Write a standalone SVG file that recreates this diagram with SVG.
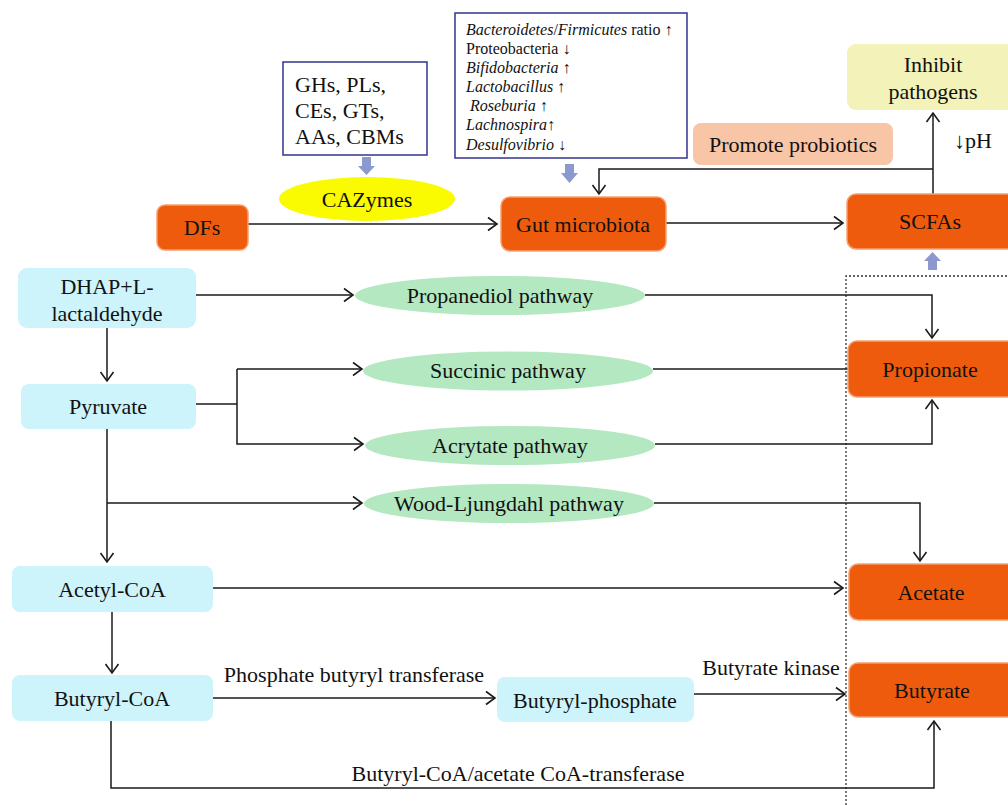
<svg xmlns="http://www.w3.org/2000/svg" width="1008" height="805" viewBox="0 0 1008 805">
<style>
text{font-family:"Liberation Serif","Times New Roman",serif;font-size:22px;fill:#111;text-anchor:middle}
.sm{font-size:16px;text-anchor:start}
.it{font-style:italic}
.or{fill:#ef5b0c;stroke:#f6a070;stroke-width:1.5}
.cy{fill:#cdf3fb}
.gr{fill:#b3e8c1}
.bx{fill:#fff;stroke:#33338f;stroke-width:1.5}
.ln{fill:none;stroke:#1a1a1a;stroke-width:1.5}
.ba{fill:#8c99cf}
</style>
<defs>
<marker id="ah" markerUnits="userSpaceOnUse" markerWidth="20" markerHeight="20" viewBox="-12 -10 14 20" refX="0" refY="0" orient="auto">
<path d="M-9,-6.5 L0,0 L-9,6.5" fill="none" stroke="#1a1a1a" stroke-width="1.6"/>
</marker>
</defs>
<rect width="1008" height="805" fill="#fff"/>

<!-- dotted frame -->
<path d="M846,805 V276 H1008" fill="none" stroke="#333" stroke-width="1.3" stroke-dasharray="2,2"/>

<!-- connectors -->
<g id="connectors">
<path class="ln" d="M248,224 H497" marker-end="url(#ah)"/>
<path class="ln" d="M666,223 H843" marker-end="url(#ah)"/>
<path class="ln" d="M933,194 V113" marker-end="url(#ah)"/>
<path class="ln" d="M933,169 H599 V194" marker-end="url(#ah)"/>
<path class="ln" d="M196,295 H353" marker-end="url(#ah)"/>
<path class="ln" d="M645,295 H932 V338" marker-end="url(#ah)"/>
<path class="ln" d="M107,328 V381" marker-end="url(#ah)"/>
<path class="ln" d="M196,404 H237"/>
<path class="ln" d="M237,369 H362" marker-end="url(#ah)"/>
<path class="ln" d="M237,369 V444 H363" marker-end="url(#ah)"/>
<path class="ln" d="M653,369 H848"/>
<path class="ln" d="M655,444 H932 V400" marker-end="url(#ah)"/>
<path class="ln" d="M107,429 V562" marker-end="url(#ah)"/>
<path class="ln" d="M107,503 H362" marker-end="url(#ah)"/>
<path class="ln" d="M654,503 H920 V561" marker-end="url(#ah)"/>
<path class="ln" d="M213,588 H843" marker-end="url(#ah)"/>
<path class="ln" d="M112,612 V673" marker-end="url(#ah)"/>
<path class="ln" d="M213,698 H495" marker-end="url(#ah)"/>
<path class="ln" d="M694,694 H845" marker-end="url(#ah)"/>
<path class="ln" d="M111,721 V788 H934 V721" marker-end="url(#ah)"/>
<text x="354" y="682">Phosphate butyryl transferase</text>
<text x="771" y="675">Butyrate kinase</text>
<text x="518" y="781">Butyryl-CoA/acetate CoA-transferase</text>
<text x="973" y="148">↓pH</text>
</g>

<!-- block arrows -->
<polygon class="ba" points="362,157 371,157 371,166 375,166 366.5,175 358,166 362,166"/>
<polygon class="ba" points="565,164 574,164 574,173 578,173 569.5,183 561,173 565,173"/>
<polygon class="ba" points="928,270 937,270 937,261 941,261 932.5,252 924,261 928,261"/>

<g id="enzymes">
<rect class="bx" x="283" y="62" width="144" height="93"/>
<text x="295" y="92" style="text-anchor:start">GHs, PLs,</text>
<text x="295" y="118" style="text-anchor:start">CEs, GTs,</text>
<text x="295" y="144" style="text-anchor:start">AAs, CBMs</text>
</g>

<g id="bacteria">
<rect class="bx" x="455" y="13" width="232" height="145"/>
<text class="sm" x="466" y="35"><tspan class="it">Bacteroidetes</tspan>/<tspan class="it">Firmicutes</tspan> ratio ↑</text>
<text class="sm" x="466" y="54">Proteobacteria ↓</text>
<text class="sm" x="466" y="73"><tspan class="it">Bifidobacteria</tspan> ↑</text>
<text class="sm" x="466" y="92"><tspan class="it">Lactobacillus</tspan> ↑</text>
<text class="sm" x="470" y="111"><tspan class="it">Roseburia</tspan> ↑</text>
<text class="sm" x="466" y="130"><tspan class="it">Lachnospira</tspan>↑</text>
<text class="sm" x="466" y="150"><tspan class="it">Desulfovibrio</tspan> ↓</text>
</g>

<g id="cazymes">
<ellipse cx="367" cy="199" rx="88" ry="22" fill="#fafa00"/>
<text x="367" y="207">CAZymes</text>
</g>

<g id="dfs">
<rect class="or" x="157" y="205" width="91" height="45" rx="8"/>
<text x="202" y="235">DFs</text>
</g>

<g id="gut">
<rect class="or" x="501" y="197" width="165" height="54" rx="9"/>
<text x="583" y="232">Gut microbiota</text>
</g>

<g id="scfas">
<rect class="or" x="847" y="194" width="170" height="55" rx="9"/>
<text x="930" y="229">SCFAs</text>
</g>

<g id="inhibit">
<rect x="847" y="44" width="170" height="66" rx="9" fill="#f2f2b9"/>
<text x="933" y="72">Inhibit</text>
<text x="933" y="99">pathogens</text>
</g>

<g id="promote">
<rect x="693" y="123" width="200" height="42" rx="8" fill="#f8c5a6"/>
<text x="793" y="152">Promote probiotics</text>
</g>

<g id="dhap">
<rect class="cy" x="18" y="268" width="178" height="60" rx="9"/>
<text x="107" y="294">DHAP+L-</text>
<text x="107" y="321">lactaldehyde</text>
</g>

<g id="pyruvate">
<rect class="cy" x="21" y="384" width="175" height="45" rx="8"/>
<text x="108" y="414">Pyruvate</text>
</g>

<g id="acetylcoa">
<rect class="cy" x="12" y="566" width="201" height="46" rx="8"/>
<text x="112" y="597">Acetyl-CoA</text>
</g>

<g id="butyrylcoa">
<rect class="cy" x="12" y="675" width="201" height="46" rx="8"/>
<text x="112" y="706">Butyryl-CoA</text>
</g>

<g id="butyrylphosphate">
<rect class="cy" x="497" y="677" width="197" height="45" rx="8"/>
<text x="595" y="708">Butyryl-phosphate</text>
</g>

<g id="propanediol">
<ellipse class="gr" cx="500" cy="295.5" rx="145" ry="19.5"/>
<text x="500" y="303">Propanediol pathway</text>
</g>

<g id="succinic">
<ellipse class="gr" cx="508" cy="371" rx="145" ry="19.5"/>
<text x="508" y="378">Succinic pathway</text>
</g>

<g id="acrytate">
<ellipse class="gr" cx="510" cy="445.5" rx="145" ry="19.5"/>
<text x="510" y="453">Acrytate pathway</text>
</g>

<g id="woodljungdahl">
<ellipse class="gr" cx="509" cy="503.5" rx="145" ry="19.5"/>
<text x="509" y="511">Wood-Ljungdahl pathway</text>
</g>

<g id="propionate">
<rect class="or" x="848" y="341" width="170" height="56" rx="9"/>
<text x="930" y="377">Propionate</text>
</g>

<g id="acetate">
<rect class="or" x="849" y="564" width="170" height="56" rx="9"/>
<text x="931" y="600">Acetate</text>
</g>

<g id="butyrate">
<rect class="or" x="849" y="663" width="170" height="54" rx="9"/>
<text x="932" y="698">Butyrate</text>
</g>
</svg>
